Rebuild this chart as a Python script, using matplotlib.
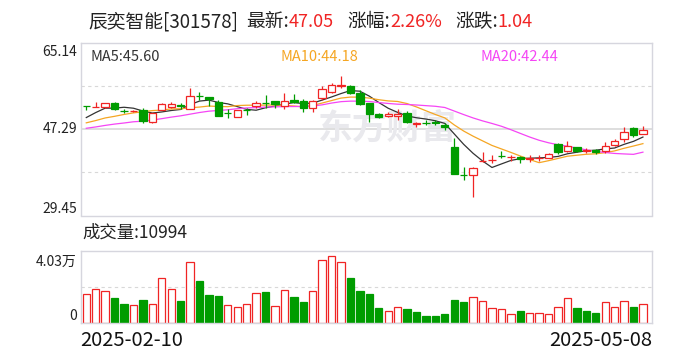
import matplotlib
matplotlib.use("Agg")
import matplotlib.pyplot as plt
from matplotlib.patches import Rectangle
import numpy as np
import pandas as pd

plt.rcParams['font.family'] = ['Noto Sans CJK SC', 'DejaVu Sans']

# daily candles 2025-02-10 .. 2025-05-08
opens = [52.10, 51.85, 51.82, 52.71, 51.06, 51.00, 51.27, 48.73, 51.27, 51.95,
         52.18, 51.41, 54.17, 53.89, 52.92, 50.70, 49.76, 51.29, 52.09, 52.67,
         53.12, 52.09, 53.33, 53.12, 51.62, 53.68, 54.92, 56.30, 56.21, 54.71,
         52.61, 50.38, 50.03, 50.09, 50.59, 48.45, 48.59, 48.66, 48.24, 43.70,
         37.89, 37.73, 40.73, 40.93, 41.69, 41.43, 41.52, 41.20, 41.25, 41.31,
         44.20, 42.76, 43.58, 42.76, 43.02, 42.67, 44.05, 45.23, 47.56, 46.26]
highs = [52.15, 52.85, 52.75, 52.80, 51.41, 51.20, 51.74, 50.65, 52.77, 52.85,
         52.65, 55.87, 54.98, 54.00, 53.33, 51.37, 51.30, 51.74, 53.02, 54.30,
         53.20, 54.71, 54.50, 53.47, 53.25, 56.28, 56.77, 58.28, 56.42, 55.39,
         52.70, 50.71, 50.86, 51.41, 51.12, 48.79, 49.21, 49.21, 48.59, 45.56,
         39.46, 39.46, 42.47, 41.93, 42.82, 41.99, 41.64, 41.99, 41.99, 42.34,
         44.41, 44.88, 43.70, 43.29, 43.17, 44.73, 45.23, 47.83, 47.83, 47.97]
lows = [51.27, 51.80, 51.68, 51.30, 50.59, 50.85, 48.65, 48.65, 51.20, 51.74,
        51.47, 51.35, 53.33, 52.15, 50.00, 49.62, 49.70, 50.24, 51.74, 51.74,
        51.68, 51.53, 52.65, 50.92, 50.92, 53.33, 54.85, 55.74, 54.60, 52.30,
        48.86, 49.56, 49.89, 49.21, 48.65, 47.83, 48.24, 48.24, 47.15, 37.95,
        36.84, 33.27, 40.40, 40.28, 41.31, 40.75, 40.28, 40.43, 40.61, 41.25,
        42.20, 42.55, 42.47, 42.34, 42.13, 42.34, 43.85, 44.61, 45.76, 46.26]
closes = [52.05, 51.90, 52.65, 51.41, 51.02, 51.06, 49.00, 50.59, 52.51, 52.51,
          52.15, 54.09, 54.13, 53.53, 50.09, 50.69, 51.27, 51.26, 52.65, 52.64,
          52.51, 53.18, 52.86, 51.62, 53.18, 55.60, 56.42, 56.36, 54.71, 52.51,
          50.51, 49.89, 50.38, 50.44, 48.86, 48.62, 48.56, 48.63, 47.70, 38.01,
          37.86, 39.25, 40.76, 40.96, 41.66, 41.46, 41.11, 41.23, 41.31, 42.13,
          42.47, 43.85, 42.82, 42.92, 42.61, 43.85, 44.75, 46.60, 46.01, 47.05]
# closes before the window, only used so the moving averages start where they do
pre_closes = [46.5, 46.3, 45.9, 46.6, 46.0, 46.5, 45.8, 46.9, 46.2, 46.8,
              47.2, 47.3, 48.0, 47.2, 47.8, 46.75, 48.10, 51.41, 50.09]

# volume in 万 and whether the bar is drawn red
vol_wan = [1.73, 2.02, 1.91, 1.49, 1.15, 1.07, 1.37, 1.13, 2.70, 2.04,
           1.31, 3.67, 2.52, 1.69, 1.61, 1.07, 0.93, 1.13, 1.79, 1.87,
           1.01, 1.97, 1.57, 1.27, 1.91, 3.79, 4.03, 3.67, 2.70, 1.93,
           1.75, 0.91, 0.71, 0.95, 0.83, 0.66, 0.40, 0.40, 0.54, 1.37,
           1.27, 1.53, 1.31, 0.87, 0.83, 0.52, 0.73, 0.58, 0.58, 0.52,
           0.93, 1.47, 0.89, 0.73, 0.60, 1.25, 0.95, 1.29, 0.95, 1.10]
vol_up = [1, 1, 1, 0, 0, 1, 0, 1, 1, 1,
          0, 1, 0, 0, 0, 1, 1, 1, 1, 0,
          1, 1, 0, 0, 1, 1, 1, 1, 0, 0,
          0, 0, 1, 1, 0, 0, 0, 0, 0, 0,
          0, 1, 1, 1, 1, 1, 0, 1, 1, 1,
          1, 1, 0, 0, 0, 1, 1, 1, 0, 1]

price_ticks = [65.14, 47.29, 29.45]
vol_top_label = "4.03万"
date_labels = ["2025-02-10", "2025-05-08"]
title_parts = [("辰奕智能[301578]", 0), ("最新:", 0), ("47.05", 1), ("涨幅:", 0),
               ("2.26%", 1), ("涨跌:", 0), ("1.04", 1)]
ma_labels = ["MA5:45.60", "MA10:44.18", "MA20:42.44"]
volume_label = "成交量:10994"

RED = "#f02424"
GREEN = "#009c00"
MA_COLORS = ["#333333", "#f5a623", "#f545f5"]
FRAME = "#d6d6de"

W, H = 688, 360
fig = plt.figure(figsize=(W / 100, H / 100), dpi=100)


def fx(x):
    return x / W


def fy(y):
    return 1 - y / H


n = len(closes)
x = np.arange(n)
xlim = (-0.56, n - 0.07)
bw = 0.78

ax = fig.add_axes([fx(81), fy(215.5), fx(651.7) - fx(81), fy(42.7) - fy(215.5)])
vax = fig.add_axes([fx(81), fy(322.7), fx(651.7) - fx(81), fy(251) - fy(322.7)])

for a in (ax, vax):
    a.set_xlim(*xlim)
    a.set_xticks([])
    a.set_yticks([])
    for s in a.spines.values():
        s.set_color(FRAME)
        s.set_linewidth(1.0)

ax.set_ylim(price_ticks[2], price_ticks[0])

# grid
ax.axhline(price_ticks[1], color="#d4d4d4", lw=1.1, zorder=0)
for v in [(price_ticks[0] + price_ticks[1]) / 2, (price_ticks[1] + price_ticks[2]) / 2]:
    ax.axhline(v, color="#d8d8d8", lw=0.8, dashes=(3, 3), zorder=0)

# watermark
ax.text(0.415, 0.505, "东方财富", transform=ax.transAxes, fontsize=25, fontweight="bold",
        color="#e9e9ed", ha="left", va="center", zorder=0)

# moving averages
allc = pd.Series(pre_closes + closes)
k = len(pre_closes)
for p, col in zip([5, 10, 20], MA_COLORS):
    ma = allc.rolling(p).mean().iloc[k:].values
    ax.plot(x, ma, color=col, lw=0.9, zorder=2)

# candles
for i in range(n):
    o, h, l, c = opens[i], highs[i], lows[i], closes[i]
    up = c >= o
    col = RED if up else GREEN
    top, bot = max(o, c), min(o, c)
    ax.vlines(i, top, h, color=col, lw=0.9, zorder=3)
    ax.vlines(i, l, bot, color=col, lw=0.9, zorder=3)
    ax.add_patch(Rectangle((i - bw / 2, bot), bw, max(top - bot, 0.02),
                           facecolor="white" if up else col, edgecolor=col,
                           lw=0.9, zorder=4))

# volume
vax.set_ylim(0, 4.33)
vax.axhline(4.33 / 2, color="#d8d8d8", lw=0.8, dashes=(3, 3), zorder=0)
vcols = [RED if u else GREEN for u in vol_up]
vax.bar(x, vol_wan, width=bw, color=["white" if u else GREEN for u in vol_up],
        edgecolor=vcols, lw=0.9, zorder=2)

# axis labels
lab = dict(fontsize=10, color="#222222", ha="right")
fig.text(fx(77), fy(51.7), f"{price_ticks[0]:.2f}", va="center", **lab)
fig.text(fx(77), fy(129.3), f"{price_ticks[1]:.2f}", va="center", **lab)
fig.text(fx(77), fy(208.5), f"{price_ticks[2]:.2f}", va="center", **lab)
fig.text(fx(77), fy(262), vol_top_label, va="center", **lab)
fig.text(fx(77), fy(316), "0", va="center", **lab)

fig.text(fx(80), fy(340), date_labels[0], fontsize=14.5, color="#111111", ha="left", va="center")
fig.text(fx(652), fy(340), date_labels[1], fontsize=14.5, color="#111111", ha="right", va="center")

fig.text(fx(82), fy(233), volume_label, fontsize=12.5, color="#222222", ha="left", va="center")

for lbl, xp, col in zip(ma_labels, [90, 280, 480], MA_COLORS):
    fig.text(fx(xp), fy(57.3), lbl, fontsize=10.5, color=col, ha="left", va="center")

# title, pieces chained one after the other
gaps = [0, 5.8, 0, 10.0, 0, 9.0, 0]
prev = fig.text(fx(88), fy(21.7), title_parts[0][0], fontsize=13.5, color="#222222",
                ha="left", va="center")
for (txt, hl), g in zip(title_parts[1:], gaps[1:]):
    prev = ax.annotate(txt, xy=(1, 0.5), xycoords=prev, xytext=(g, 0),
                       textcoords="offset points", fontsize=13 if hl else 13.5,
                       color=RED if hl else "#222222", ha="left", va="center",
                       annotation_clip=False)

fig.savefig("out.png", dpi=100)
